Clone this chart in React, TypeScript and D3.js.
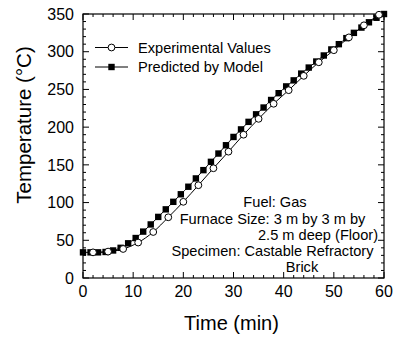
import React from "react";
import * as d3 from "d3";

const expTime = [2, 5, 8, 11, 14, 17, 20, 23, 26, 29, 32, 35, 38, 41, 44, 47, 50, 53, 56, 59];
const expTemp = [34, 35, 38.5, 47, 61, 80.5, 101, 123, 145.5, 167.5, 190, 211, 231, 249, 268, 286, 302, 319, 335, 349];

const modelTime = [
  0, 1.5, 3, 4.5, 6, 7.5, 9, 10.5, 12, 13.5, 15, 16.5, 18, 19.5, 21, 22.5, 24, 25.5, 27, 28.5,
  30, 31.5, 33, 34.5, 36, 37.5, 39, 40.5, 42, 43.5, 45, 46.5, 48, 49.5, 51, 52.5, 54, 55.5, 57, 58.5, 60,
];
const modelTemp = [
  34, 34, 34, 34.5, 36.5, 40, 46, 53, 61.5, 71, 81, 91, 101, 111, 121, 132, 143, 154, 165, 176,
  187, 197, 207, 217, 226, 236, 245, 254, 262, 271, 279, 287, 295, 303, 310, 318, 325, 332, 339, 345, 350,
];

const xTicks = [0, 10, 20, 30, 40, 50, 60];
const yTicks = [0, 50, 100, 150, 200, 250, 300, 350];
const legendLabels = ["Experimental Values", "Predicted by Model"];
const noteLines = [
  "Fuel: Gas",
  "Furnace Size: 3 m by 3 m by",
  "2.5 m deep (Floor)",
  "Specimen: Castable Refractory",
  "Brick",
];

const W = 397;
const H = 346;
const M = { left: 83, right: 384, top: 14, bottom: 278 };
const FONT = "'Liberation Sans', Arial, Helvetica, sans-serif";

export default function App() {
  const x = d3.scaleLinear().domain([0, 60]).range([M.left, M.right]);
  const y = d3.scaleLinear().domain([0, 350]).range([M.bottom, M.top]);

  const expData = expTime.map((t, i) => [t, expTemp[i]] as [number, number]);
  const modelData = modelTime.map((t, i) => [t, modelTemp[i]] as [number, number]);
  const line = d3
    .line<[number, number]>()
    .x((d) => x(d[0]))
    .y((d) => y(d[1]))
    .curve(d3.curveMonotoneX);

  const xMinor = d3.range(0, 61, 2);
  const yMinor = d3.range(0, 351, 10);

  const notePos = [
    { cx: 275, by: 207 },
    { cx: 272.5, by: 223.5 },
    { cx: 318, by: 240 },
    { cx: 272.5, by: 256 },
    { cx: 302, by: 271.5 },
  ];

  return (
    <svg
      width={W}
      height={H}
      style={{ position: "absolute", left: 0, top: 0, background: "#fff" }}
      fontFamily={FONT}
    >
      <rect x={0} y={0} width={W} height={H} fill="#fff" />
      {/* ticks */}
      <g stroke="#000" strokeWidth={1}>
        {xMinor.map((t) => {
          const major = t % 10 === 0;
          const len = major ? 6 : 3;
          return (
            <g key={"xt" + t}>
              <line x1={x(t)} x2={x(t)} y1={M.bottom} y2={M.bottom - len} />
              <line x1={x(t)} x2={x(t)} y1={M.top} y2={M.top + len} />
            </g>
          );
        })}
        {yMinor.map((v) => {
          const major = v % 50 === 0;
          const len = major ? 6 : 3;
          return (
            <g key={"yt" + v}>
              <line x1={M.left} x2={M.left + len} y1={y(v)} y2={y(v)} />
              <line x1={M.right} x2={M.right - len} y1={y(v)} y2={y(v)} />
            </g>
          );
        })}
      </g>
      <rect
        x={M.left}
        y={M.top}
        width={M.right - M.left}
        height={M.bottom - M.top}
        fill="none"
        stroke="#000"
        strokeWidth={1.2}
      />
      {/* tick labels */}
      <g fontSize={16} fill="#000">
        {xTicks.map((t) => (
          <text key={"xl" + t} x={x(t)} y={297} textAnchor="middle">
            {t}
          </text>
        ))}
        {yTicks.map((v) => (
          <text key={"yl" + v} x={74} y={y(v)} dy="0.36em" textAnchor="end">
            {v}
          </text>
        ))}
      </g>
      {/* axis titles */}
      <text x={231.5} y={330} fontSize={20} textAnchor="middle" fill="#000">
        Time (min)
      </text>
      <text
        transform={`translate(31, ${125}) rotate(-90)`}
        fontSize={20.5}
        textAnchor="middle"
        fill="#000"
      >
        Temperature (°C)
      </text>
      {/* series */}
      <path d={line(expData) || ""} fill="none" stroke="#000" strokeWidth={1} />
      <path d={line(modelData) || ""} fill="none" stroke="#000" strokeWidth={1} />
      {modelData.map((d, i) => (
        <rect key={"m" + i} x={x(d[0]) - 3.2} y={y(d[1]) - 3.2} width={6.4} height={6.4} fill="#000" />
      ))}
      {expData.map((d, i) => (
        <circle key={"e" + i} cx={x(d[0])} cy={y(d[1])} r={3.4} fill="#fff" stroke="#000" strokeWidth={1} />
      ))}
      {/* legend */}
      <g>
        <line x1={95} x2={128} y1={47.5} y2={47.5} stroke="#000" strokeWidth={1} />
        <circle cx={111.5} cy={47.5} r={3.4} fill="#fff" stroke="#000" strokeWidth={1} />
        <text x={138} y={52.5} fontSize={14.6} fill="#000">
          {legendLabels[0]}
        </text>
        <line x1={95} x2={128} y1={67} y2={67} stroke="#000" strokeWidth={1} />
        <rect x={108.3} y={63.8} width={6.4} height={6.4} fill="#000" />
        <text x={138} y={72} fontSize={14.6} fill="#000">
          {legendLabels[1]}
        </text>
      </g>
      {/* annotation */}
      <g fontSize={14.6} fill="#000" textAnchor="middle">
        {noteLines.map((s, i) => (
          <text key={"n" + i} x={notePos[i].cx} y={notePos[i].by}>
            {s}
          </text>
        ))}
      </g>
    </svg>
  );
}
